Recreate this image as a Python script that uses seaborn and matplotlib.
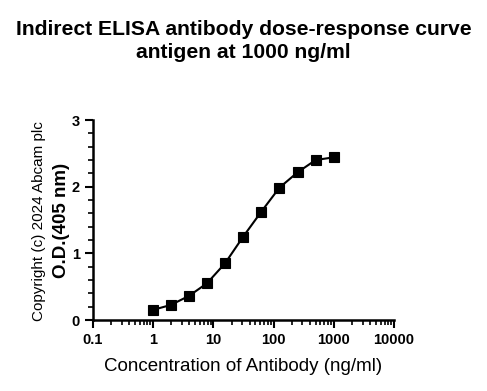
import matplotlib

matplotlib.use("Agg")
import matplotlib.pyplot as plt
import numpy as np
import pandas as pd
import seaborn as sns
from matplotlib.ticker import FixedLocator, LogLocator, NullFormatter, FixedFormatter, MultipleLocator

# antikor konsantrasyonu (ng/ml), 2 kat seyreltme
konsantrasyon = [0.977, 1.95, 3.91, 7.81, 15.6, 31.25, 62.5, 125, 250, 500, 1000]
od_405 = [0.15, 0.225, 0.36, 0.55, 0.85, 1.25, 1.625, 1.985, 2.215, 2.40, 2.44]

x_ticks = [0.1, 1, 10, 100, 1000, 10000]
x_etiket = ["0.1", "1", "10", "100", "1000", "10000"]
y_ticks = [0, 1, 2, 3]

sns.set_theme(style="ticks")
plt.rcParams["font.family"] = ["Liberation Sans", "DejaVu Sans"]
plt.rcParams["text.color"] = "black"
plt.rcParams["axes.labelcolor"] = "black"

df = pd.DataFrame({"konsantrasyon": konsantrasyon, "od": od_405})

fig = plt.figure(figsize=(4.87, 3.91), dpi=100)
ax = fig.add_axes([93 / 487, 1 - 320 / 391, (394 - 93) / 487, 200 / 391])

sns.lineplot(data=df, x="konsantrasyon", y="od", ax=ax, color="black",
             marker="s", markersize=6.5, markeredgecolor="black",
             markeredgewidth=0.8, lw=1.5)

ax.set_xscale("log")
ax.set_xlim(0.1, 10000)
ax.set_ylim(0, 3)
ax.xaxis.set_major_locator(FixedLocator(x_ticks))
ax.xaxis.set_major_formatter(FixedFormatter(x_etiket))
ax.xaxis.set_minor_locator(LogLocator(base=10, subs=np.arange(2, 10)))
ax.xaxis.set_minor_formatter(NullFormatter())
ax.yaxis.set_major_locator(FixedLocator(y_ticks))
ax.yaxis.set_minor_locator(MultipleLocator(0.2))

for s in ["top", "right"]:
    ax.spines[s].set_visible(False)
for s in ["left", "bottom"]:
    ax.spines[s].set_linewidth(1.8)
    ax.spines[s].set_color("black")

ax.tick_params(axis="both", which="major", length=6, width=1.5, colors="black",
               labelsize=10.5)
ax.tick_params(axis="both", which="minor", length=3.5, width=1.2, colors="black")
for lbl in ax.get_xticklabels() + ax.get_yticklabels():
    lbl.set_fontweight("bold")

ax.set_xlabel("Concentration of Antibody (ng/ml)", fontsize=13.5, labelpad=8)
ax.set_ylabel("O.D.(405 nm)", fontsize=13.5, fontweight="bold", labelpad=1)

fig.text(39 / 487, 1 - 221 / 391, "Copyright (c) 2024 Abcam plc", rotation=90,
         ha="center", va="center", fontsize=11)

fig.text(0.5, 1 - 20 / 391,
         "Indirect ELISA antibody dose-response curve\nantigen at 1000 ng/ml",
         ha="center", va="top", fontsize=15.2, fontweight="bold", linespacing=1.3)

fig.savefig("out.png", dpi=100)
